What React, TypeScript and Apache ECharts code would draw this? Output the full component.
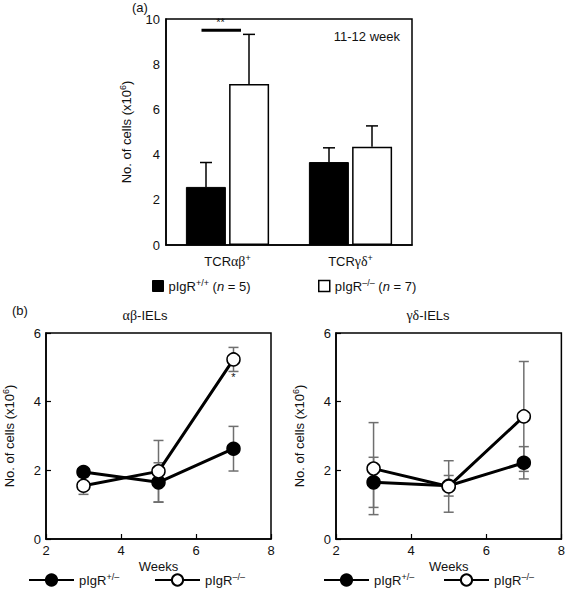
import React, { useEffect, useRef } from 'react';
import * as echarts from 'echarts';

// ---- Panel (a) data ----
const barCategories = ['TCRαβ+', 'TCRγδ+'];
const barWT = [2.57, 3.67];
const barWTErr = [1.08, 0.63];
const barKO = [7.12, 4.35];
const barKOErr = [2.2, 0.92];
const barWTName = 'pIgR+/+ (n = 5)';
const barKOName = 'pIgR–/– (n = 7)';

// ---- Panel (b) data ----
const weeks = [3, 5, 7];
const abHet = [1.95, 1.65, 2.63];
const abHetErr = [0.1, 0.57, 0.65];
const abKO = [1.55, 1.97, 5.23];
const abKOErr = [0.25, 0.9, 0.35];
const gdHet = [1.65, 1.55, 2.22];
const gdHetErr = [0.73, 0.3, 0.47];
const gdKO = [2.05, 1.53, 3.57];
const gdKOErr = [1.34, 0.75, 1.6];
const hetName = 'pIgR+/–';
const koName = 'pIgR–/–';

const FONT = 'Liberation Sans';
const SERIF = 'Liberation Serif';
const TXT = '#111';

const supRich = {
  s: { fontSize: 9, fontFamily: FONT, color: TXT, padding: [0, 0, 7, 0] },
  i: { fontSize: 13, fontFamily: FONT, color: TXT, fontStyle: 'italic' },
  g: { fontSize: 14, fontFamily: SERIF, color: TXT },
  r: { fontSize: 13, fontFamily: FONT, color: TXT },
};

const fmtLegend = (n: string) =>
  n.replace(/pIgR(\S+)/, 'pIgR{s|$1}').replace('(n =', '({i|n} =');

const errRender = (capHalf: number, color: string, upOnly: boolean, offset: number) =>
  (params: any, api: any) => {
    const x = api.value(0);
    const v = api.value(1);
    const e = api.value(2);
    const top = api.coord([x, v + e]);
    const bot = api.coord([x, upOnly ? v : v - e]);
    const cx = top[0] + offset;
    const st = { stroke: color, lineWidth: 1.5 };
    const children: any[] = [
      { type: 'line', shape: { x1: cx, y1: top[1], x2: cx, y2: bot[1] }, style: st },
      { type: 'line', shape: { x1: cx - capHalf, y1: top[1], x2: cx + capHalf, y2: top[1] }, style: st },
    ];
    if (!upOnly) {
      children.push({ type: 'line', shape: { x1: cx - capHalf, y1: bot[1], x2: cx + capHalf, y2: bot[1] }, style: st });
    }
    return { type: 'group', children };
  };

const BAR_W = 40;
const BAR_OFF = 21.5;

export default function App() {
  const ref = useRef<HTMLDivElement>(null);
  useEffect(() => {
    if (!ref.current) return;
    const chart = echarts.init(ref.current, undefined, { renderer: 'svg' });

    const yName = 'No. of cells (x10{s|6})';
    const axisLabelStyle = { fontFamily: FONT, fontSize: 13, color: TXT };

    const valueY = (gridIndex: number, max: number, gap: number, ticks: boolean) => ({
      type: 'value',
      gridIndex,
      min: 0,
      max,
      interval: 2,
      name: yName,
      nameLocation: 'middle',
      nameRotate: 90,
      nameGap: gap,
      nameTextStyle: { fontFamily: FONT, fontSize: 13, color: TXT, rich: supRich },
      axisLine: { show: true, lineStyle: { color: '#000', width: 1.5 } },
      axisTick: { show: ticks, inside: true, length: 5, lineStyle: { color: '#000', width: 1.2 } },
      axisLabel: { ...axisLabelStyle, margin: ticks ? 5 : 6 },
      splitLine: { show: false },
    });

    const weekX = (gridIndex: number) => ({
      type: 'value',
      gridIndex,
      min: 2,
      max: 8,
      interval: 2,
      name: 'Weeks',
      nameLocation: 'middle',
      nameGap: 21,
      nameTextStyle: { fontFamily: FONT, fontSize: 13, color: TXT },
      axisLine: { show: true, lineStyle: { color: '#000', width: 1.5 } },
      axisTick: { show: true, inside: true, length: 5, lineStyle: { color: '#000', width: 1.2 } },
      axisLabel: { ...axisLabelStyle, margin: 5 },
      splitLine: { show: false },
    });

    const lineSeries = (name: string, xi: number, vals: number[], filled: boolean) => ({
      type: 'line',
      name,
      xAxisIndex: xi,
      yAxisIndex: xi,
      data: weeks.map((w, i) => [w, vals[i]]),
      symbol: 'circle',
      symbolSize: 13,
      lineStyle: { color: '#000', width: 3 },
      itemStyle: { color: filled ? '#000' : '#fff', borderColor: '#000', borderWidth: 1.5 },
      z: filled ? 3 : 4,
    });

    const errSeries = (xi: number, vals: number[], errs: number[]) => ({
      type: 'custom',
      xAxisIndex: xi,
      yAxisIndex: xi,
      data: weeks.map((w, i) => [w, vals[i], errs[i]]),
      encode: { x: 0, y: 1 },
      renderItem: errRender(5, '#6f6f6f', false, 0),
      z: 1,
      silent: true,
    });

    const legendBase = {
      selectedMode: false,
      padding: 0,
      textStyle: { fontFamily: FONT, fontSize: 13, color: TXT, rich: supRich },
      formatter: fmtLegend,
    };

    chart.setOption({
      animation: false,
      grid: [
        { left: 166, top: 19, width: 246, height: 226, show: true, borderColor: '#000', borderWidth: 1.5, backgroundColor: 'transparent' },
        { left: 44, top: 333, width: 227, height: 206, show: true, borderColor: '#000', borderWidth: 1.5, backgroundColor: 'transparent' },
        { left: 336, top: 333, width: 226, height: 206, show: true, borderColor: '#000', borderWidth: 1.5, backgroundColor: 'transparent' },
      ],
      xAxis: [
        {
          type: 'category',
          gridIndex: 0,
          data: barCategories,
          axisLine: { show: true, lineStyle: { color: '#000', width: 1.5 } },
          axisTick: { show: false },
          axisLabel: {
            ...axisLabelStyle,
            margin: 8,
            interval: 0,
            formatter: (v: string) => {
              const m = v.match(/^TCR(.+)\+$/);
              return m ? `{r|TCR}{g|${m[1]}}{s|+}` : v;
            },
            rich: supRich,
          },
        },
        weekX(1),
        weekX(2),
      ],
      yAxis: [valueY(0, 10, 32, false), valueY(1, 6, 29, true), valueY(2, 6, 29, true)],
      legend: [
        { ...legendBase, left: 152, top: 278, itemWidth: 11, itemHeight: 11, itemGap: 0, itemTextGap: 12,
          data: [{ name: barWTName, icon: 'rect', itemStyle: { color: '#000', borderColor: '#000', borderWidth: 1 } }] },
        { ...legendBase, left: 318, top: 278, itemWidth: 11, itemHeight: 11, itemGap: 0, itemTextGap: 12,
          data: [{ name: barKOName, icon: 'rect', itemStyle: { color: '#fff', borderColor: '#000', borderWidth: 1.5 } }] },
        { ...legendBase, left: 28, top: 572, itemWidth: 45, itemHeight: 14, itemTextGap: 10, data: [hetName] },
        { ...legendBase, left: 154, top: 572, itemWidth: 45, itemHeight: 14, itemTextGap: 10, data: [koName] },
        { ...legendBase, left: 323, top: 572, itemWidth: 45, itemHeight: 14, itemTextGap: 10, data: [hetName] },
        { ...legendBase, left: 443, top: 572, itemWidth: 45, itemHeight: 14, itemTextGap: 10, data: [koName] },
      ],
      graphic: [
        { type: 'text', left: 132, top: 1, style: { text: '(a)', fontFamily: FONT, fontSize: 13, fill: TXT } },
        { type: 'text', left: 12, top: 304, style: { text: '(b)', fontFamily: FONT, fontSize: 13, fill: TXT } },
        { type: 'text', x: 400, y: 36, style: { text: '11-12 week', fontFamily: FONT, fontSize: 13, fill: TXT, align: 'right', verticalAlign: 'middle' } },
        { type: 'text', x: 145, y: 315, style: { text: '{g|αβ}-IELs', rich: supRich, fontFamily: FONT, fontSize: 13, fill: TXT, align: 'center', verticalAlign: 'middle' } },
        { type: 'text', x: 428, y: 315, style: { text: '{g|γδ}-IELs', rich: supRich, fontFamily: FONT, fontSize: 13, fill: TXT, align: 'center', verticalAlign: 'middle' } },
      ],
      series: [
        {
          type: 'bar', name: barWTName, xAxisIndex: 0, yAxisIndex: 0, data: barWT,
          barWidth: BAR_W, barGap: '8%',
          itemStyle: { color: '#000', borderColor: '#000', borderWidth: 1 },
        },
        {
          type: 'bar', name: barKOName, xAxisIndex: 0, yAxisIndex: 0, data: barKO,
          barWidth: BAR_W, barGap: '8%',
          itemStyle: { color: '#fff', borderColor: '#000', borderWidth: 1.5 },
        },
        {
          type: 'custom', xAxisIndex: 0, yAxisIndex: 0, silent: true, z: 3,
          data: barCategories.map((c, i) => [i, barWT[i], barWTErr[i]]),
          encode: { x: 0, y: 1 },
          renderItem: errRender(6, '#000', true, -BAR_OFF),
        },
        {
          type: 'custom', xAxisIndex: 0, yAxisIndex: 0, silent: true, z: 3,
          data: barCategories.map((c, i) => [i, barKO[i], barKOErr[i]]),
          encode: { x: 0, y: 1 },
          renderItem: errRender(6, '#000', true, BAR_OFF),
        },
        {
          // significance bracket "**"
          type: 'custom', xAxisIndex: 0, yAxisIndex: 0, silent: true, z: 3,
          data: [[0, 9.5, '**']],
          encode: { x: 0, y: 1 },
          renderItem: (params: any, api: any) => {
            const p = api.coord([api.value(0), api.value(1)]);
            return {
              type: 'group',
              children: [
                { type: 'line', shape: { x1: p[0] - 26, y1: p[1], x2: p[0] + 13.5, y2: p[1] }, style: { stroke: '#000', lineWidth: 3 } },
                { type: 'text', x: p[0] - 7, y: p[1] - 3, style: { text: '**', fontFamily: FONT, fontSize: 11, fill: TXT, align: 'center', verticalAlign: 'bottom' } },
              ],
            };
          },
        },
        errSeries(1, abHet, abHetErr),
        errSeries(1, abKO, abKOErr),
        lineSeries(hetName, 1, abHet, true),
        lineSeries(koName, 1, abKO, false),
        {
          type: 'custom', xAxisIndex: 1, yAxisIndex: 1, silent: true, z: 5,
          data: [[7, 4.72, '*']],
          encode: { x: 0, y: 1 },
          renderItem: (params: any, api: any) => {
            const p = api.coord([api.value(0), api.value(1)]);
            return { type: 'text', x: p[0], y: p[1], style: { text: '*', fontFamily: FONT, fontSize: 11, fill: TXT, align: 'center', verticalAlign: 'middle' } };
          },
        },
        errSeries(2, gdHet, gdHetErr),
        errSeries(2, gdKO, gdKOErr),
        lineSeries(hetName, 2, gdHet, true),
        lineSeries(koName, 2, gdKO, false),
      ],
    });
    return () => chart.dispose();
  }, []);
  return <div ref={ref} style={{ position: 'absolute', left: 0, top: 0, width: 568, height: 597 }} />;
}
